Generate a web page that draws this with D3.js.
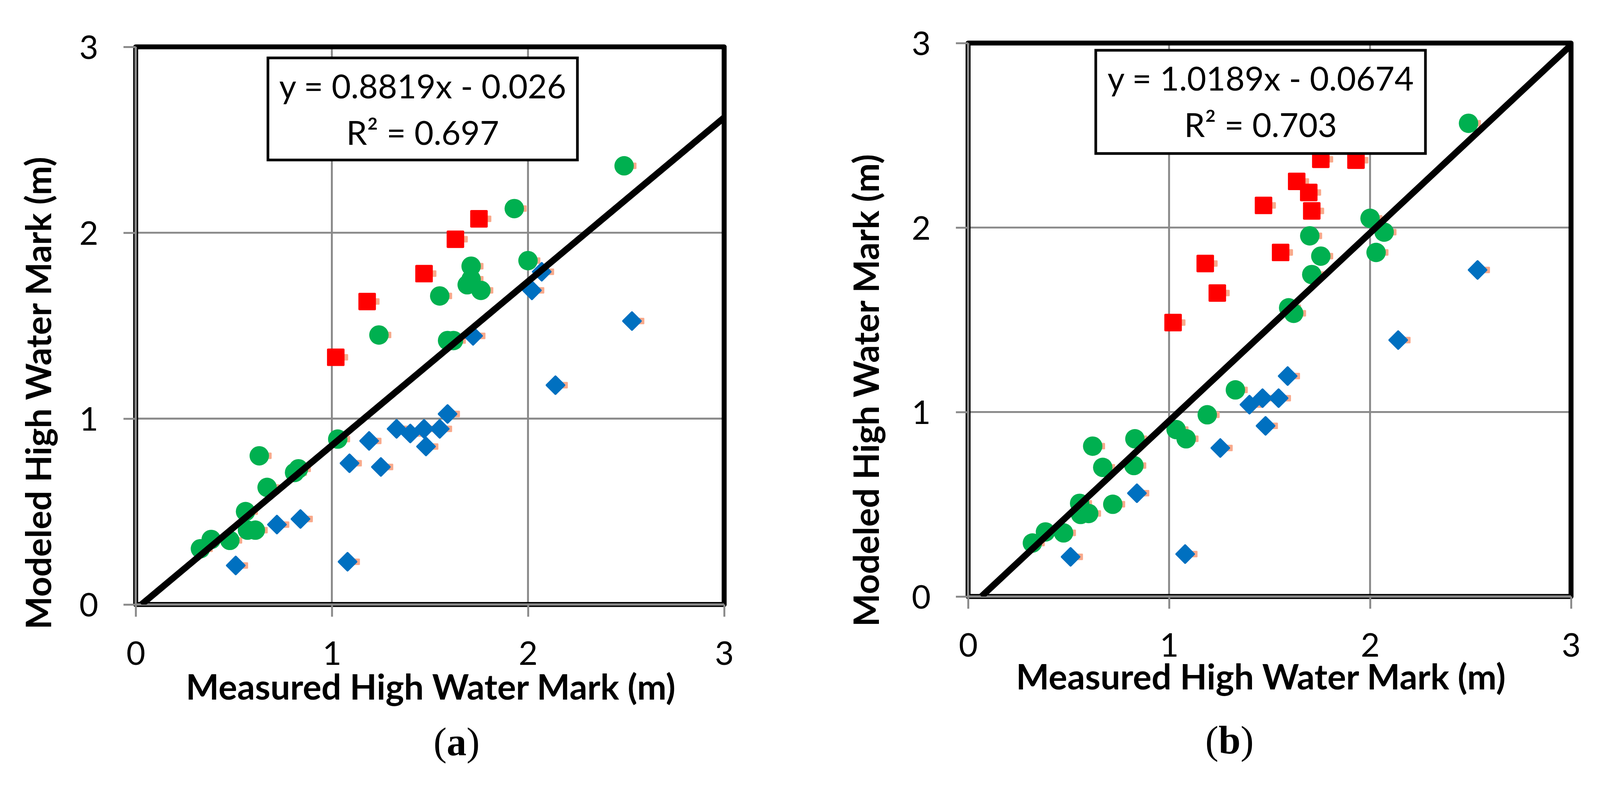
<!DOCTYPE html>
<html><head><meta charset="utf-8">
<script src="https://cdn.jsdelivr.net/npm/d3@7/dist/d3.min.js"></script>
<style>html,body{margin:0;padding:0;background:#fff;overflow:hidden;width:100%;height:100%;}svg{display:block;width:100vw;height:100vh;}</style>
</head><body>
<svg id="chart" viewBox="0 0 4198 2021" preserveAspectRatio="xMinYMin meet"></svg>
<script>
// ---------- data ----------
const xTicks = [0, 1, 2, 3];
const yTicks = [0, 1, 2, 3];
const xTitle = "Measured High Water Mark (m)";
const yTitle = "Modeled High Water Mark (m)";
const captions = ["a", "b"];

// panel (a)
const aGreenX = [0.33,0.385,0.48,0.56,0.57,0.61,0.63,0.67,0.81,0.83,1.03,1.24,1.55,1.59,1.62,1.71,1.69,1.71,1.76,1.93,2.00,2.49];
const aGreenY = [0.30,0.35,0.345,0.50,0.40,0.40,0.80,0.63,0.71,0.73,0.89,1.45,1.66,1.42,1.42,1.82,1.72,1.75,1.69,2.13,1.85,2.36];
const aRedX = [1.02,1.18,1.47,1.63,1.75];
const aRedY = [1.33,1.63,1.78,1.965,2.075];
const aBlueX = [0.51,0.72,0.84,1.08,1.09,1.19,1.25,1.33,1.40,1.47,1.48,1.55,1.59,1.72,2.02,2.07,2.14,2.53];
const aBlueY = [0.21,0.43,0.46,0.23,0.76,0.88,0.74,0.945,0.92,0.945,0.85,0.945,1.025,1.445,1.69,1.79,1.18,1.525];

// panel (b)
const bGreenX = [0.32,0.385,0.475,0.555,0.56,0.60,0.62,0.67,0.72,0.83,0.825,1.035,1.085,1.19,1.33,1.595,1.62,1.70,1.71,1.755,2.00,2.07,2.03,2.49];
const bGreenY = [0.29,0.35,0.345,0.505,0.445,0.45,0.815,0.70,0.50,0.855,0.71,0.905,0.855,0.985,1.12,1.565,1.535,1.955,1.745,1.845,2.05,1.975,1.865,2.565];
const bRedX = [1.02,1.18,1.24,1.47,1.555,1.635,1.695,1.71,1.755,1.93];
const bRedY = [1.485,1.805,1.645,2.12,1.865,2.25,2.19,2.09,2.37,2.365];
const bBlueX = [0.51,0.84,1.08,1.255,1.40,1.465,1.48,1.545,1.59,2.14,2.535];
const bBlueY = [0.215,0.56,0.23,0.805,1.04,1.075,0.925,1.075,1.195,1.39,1.77];

const fitSlopes = [0.8819, 1.0189];
const fitIntercepts = [-0.026, -0.0674];
const fitEquations = ["y = 0.8819x - 0.026", "y = 1.0189x - 0.0674"];
const fitR2 = ["0.697", "0.703"];

// ---------- layout ----------
const layouts = [
  {left:356, right:1900, top:123, bottom:1587, yTitleX:134, yTitleCY:1032, xTitleCX:1130, xTitleY:1837,
   capX:1198, capY:1982, box:{x0:703, x1:1515, y0:152, y1:420}},
  {left:2540, right:4122, top:113, bottom:1566, yTitleX:2306, yTitleCY:1025, xTitleCX:3308, xTitleY:1810,
   capX:3226, capY:1978, box:{x0:2875, x1:3740, y0:132, y1:403}}
];
const series = [
  {green:[aGreenX,aGreenY], red:[aRedX,aRedY], blue:[aBlueX,aBlueY]},
  {green:[bGreenX,bGreenY], red:[bRedX,bRedY], blue:[bBlueX,bBlueY]}
];

const FONT = "Lato, 'Open Sans', sans-serif";
const GRID = "#898989";
const svg = d3.select("#chart");
svg.append("rect").attr("width",4198).attr("height",2021).attr("fill","#fff");

const zip = (xs, ys) => xs.map((x,i)=>({x, y:ys[i]}));

layouts.forEach((L, p) => {
  const x = d3.scaleLinear().domain([0,3]).range([L.left, L.right]);
  const y = d3.scaleLinear().domain([0,3]).range([L.bottom, L.top]);
  const g = svg.append("g");
  const clipId = "clip"+p;
  g.append("clipPath").attr("id", clipId).append("rect")
    .attr("x", L.left).attr("y", L.top).attr("width", L.right-L.left).attr("height", L.bottom-L.top);

  // grid
  g.selectAll(".vg").data(xTicks.slice(1)).join("line")
    .attr("x1", d=>x(d)).attr("x2", d=>x(d)).attr("y1", y(0)).attr("y2", y(3))
    .attr("stroke", GRID).attr("stroke-width", 5);
  g.selectAll(".hg").data(yTicks.slice(1)).join("line")
    .attr("y1", d=>y(d)).attr("y2", d=>y(d)).attr("x1", x(0)).attr("x2", x(3))
    .attr("stroke", GRID).attr("stroke-width", 5);

  // frame
  g.append("rect").attr("x", x(0)).attr("y", y(3)).attr("width", x(3)-x(0)).attr("height", y(0)-y(3))
    .attr("fill","none").attr("stroke","#000").attr("stroke-width",13).attr("stroke-linejoin","round");

  // axes via d3 axis
  const xAxis = d3.axisBottom(x).tickValues(xTicks).tickSize(32).tickPadding(20).tickFormat(d3.format("d"));
  const yAxis = d3.axisLeft(y).tickValues(yTicks).tickSize(32).tickPadding(66).tickFormat(d3.format("d"));
  const gx = g.append("g").attr("transform", `translate(0,${y(0)})`).call(xAxis);
  const gy = g.append("g").attr("transform", `translate(${x(0)},0)`).call(yAxis);
  [gx, gy].forEach(a => {
    a.select(".domain").remove();
    a.selectAll(".tick line").attr("stroke", GRID).attr("stroke-width", 5);
    a.selectAll(".tick text").attr("fill","#000").style("font-family", FONT).style("font-size","86px");
  });
  g.append("line").attr("x1", x(0)).attr("x2", x(3)).attr("y1", y(0)).attr("y2", y(0))
    .attr("stroke", GRID).attr("stroke-width", 6);
  g.append("line").attr("x1", x(0)).attr("x2", x(0)).attr("y1", y(0)).attr("y2", y(3))
    .attr("stroke", GRID).attr("stroke-width", 6);
  gx.selectAll(".tick text").attr("dy", null).attr("y", 158);
  gy.selectAll(".tick text").attr("dy", "0.36em");

  // markers
  const S = series[p];
  const all = [].concat(zip(...S.green), zip(...S.red), zip(...S.blue));
  const mk = g.append("g").attr("clip-path", `url(#${clipId})`);
  mk.selectAll(".sh").data(all).join("rect")
    .attr("x", d=>x(d.x)+24-8.5).attr("y", d=>y(d.y)-8.5).attr("width",17).attr("height",17)
    .attr("rx",2).attr("fill","#F9A98B");
  mk.selectAll(".bl").data(zip(...S.blue)).join("path")
    .attr("d", d3.symbol(d3.symbolSquare, 32*32))
    .attr("transform", d=>`translate(${x(d.x)},${y(d.y)}) rotate(45)`)
    .attr("fill","#0070C0").attr("stroke","#0070C0").attr("stroke-width",6).attr("stroke-linejoin","round");
  mk.selectAll(".rd").data(zip(...S.red)).join("rect")
    .attr("x", d=>x(d.x)-23).attr("y", d=>y(d.y)-23).attr("width",46).attr("height",46)
    .attr("rx",3).attr("fill","#FF0000");
  mk.selectAll(".gr").data(zip(...S.green)).join("circle")
    .attr("cx", d=>x(d.x)).attr("cy", d=>y(d.y)).attr("r",25.5).attr("fill","#00B050");

  // trend line
  const m = fitSlopes[p], b = fitIntercepts[p];
  const x0 = -b/m;
  g.append("line").attr("clip-path", `url(#${clipId})`)
    .attr("x1", x(x0)).attr("y1", y(m*x0+b)).attr("x2", x(3)).attr("y2", y(m*3+b))
    .attr("stroke","#000").attr("stroke-width",17);

  // equation box
  const B = L.box;
  g.append("rect").attr("x",B.x0).attr("y",B.y0).attr("width",B.x1-B.x0).attr("height",B.y1-B.y0)
    .attr("fill","#fff").attr("stroke","#000").attr("stroke-width",7);
  const cx = (B.x0+B.x1)/2;
  g.append("text").attr("x",cx).attr("y",B.y0+106).attr("text-anchor","middle")
    .style("font-family",FONT).style("font-size","87px").text(fitEquations[p]);
  g.append("text").attr("x",cx).attr("y",B.y0+228).attr("text-anchor","middle")
    .style("font-family",FONT).style("font-size","87px").text("R² = " + fitR2[p]);

  // titles
  g.append("text").attr("x", L.xTitleCX).attr("y", L.xTitleY).attr("text-anchor","middle")
    .style("font-family",FONT).style("font-weight","bold").style("font-size","92px").text(xTitle);
  g.append("text").attr("transform", `translate(${L.yTitleX},${L.yTitleCY}) rotate(-90)`)
    .attr("text-anchor","middle")
    .style("font-family",FONT).style("font-weight","bold").style("font-size","92px").text(yTitle);

  // caption
  const cap = g.append("text").attr("x", L.capX).attr("y", L.capY).attr("text-anchor","middle")
    .style("font-family","'Liberation Serif', 'Times New Roman', serif").style("font-size","104px");
  cap.append("tspan").text("(");
  cap.append("tspan").style("font-weight","bold").text(captions[p]);
  cap.append("tspan").text(")");
});
</script>
</body></html>
